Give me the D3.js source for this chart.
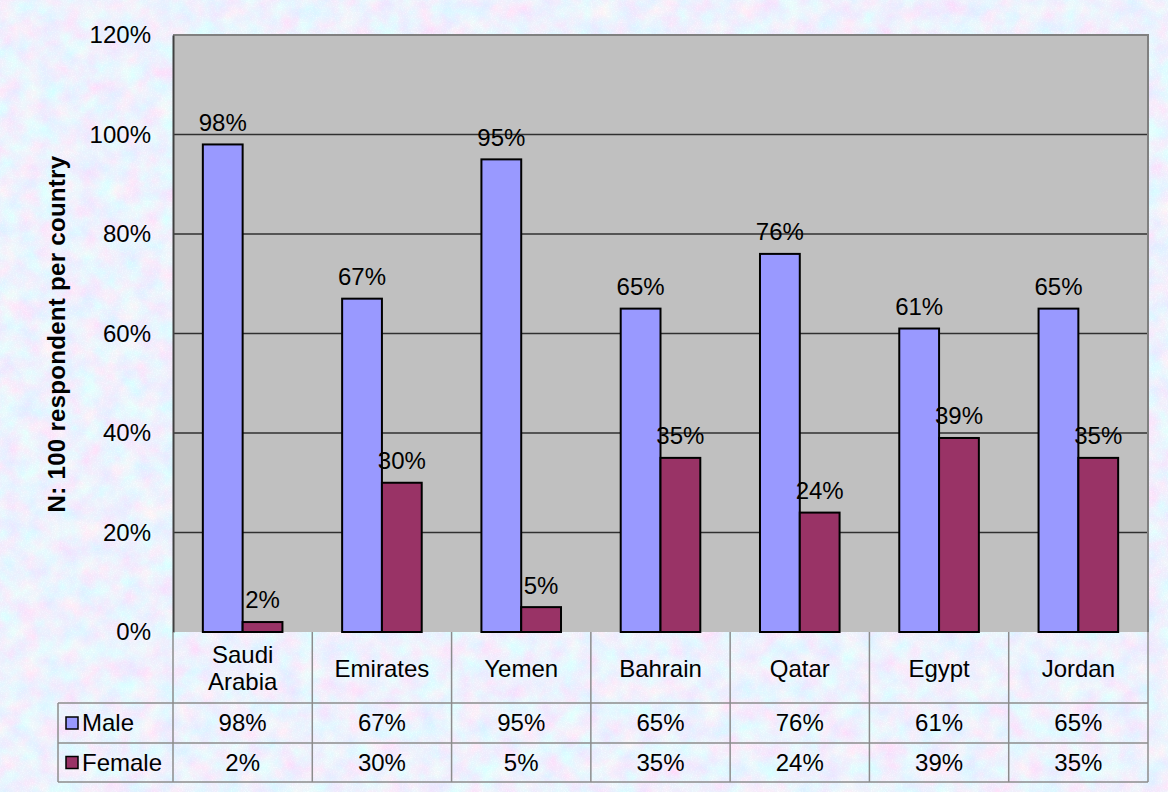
<!DOCTYPE html>
<html><head><meta charset="utf-8">
<script src="https://cdn.jsdelivr.net/npm/d3@7"></script>
<style>html,body{margin:0;padding:0;background:#fff;}svg{display:block;}</style>
</head><body>
<svg id="chart" width="1168" height="792"></svg>
<script>
const categories = [["Saudi","Arabia"],["Emirates"],["Yemen"],["Bahrain"],["Qatar"],["Egypt"],["Jordan"]];
const seriesNames = ["Male","Female"];
const maleValues = [0.98,0.67,0.95,0.65,0.76,0.61,0.65];
const femaleValues = [0.02,0.30,0.05,0.35,0.24,0.39,0.35];
const yTicks = [0,0.2,0.4,0.6,0.8,1.0,1.2];
const colors = {Male:"#9999ff", Female:"#993366"};
const yTitle = "N: 100 respondent per country";

const svg = d3.select("#chart");
const font = "'Liberation Sans', Arial, sans-serif";
const FS = 24;

// textured background
const defs = svg.append("defs");
const f = defs.append("filter").attr("id","tex").attr("x",0).attr("y",0).attr("width",1168).attr("height",792)
  .attr("filterUnits","userSpaceOnUse");
f.append("feTurbulence").attr("type","fractalNoise").attr("baseFrequency","0.05").attr("numOctaves",4).attr("seed",11).attr("result","n1");
f.append("feColorMatrix").attr("in","n1").attr("type","matrix")
  .attr("values","0.40 0 0 0 0.64  -0.2 0.25 0 0 0.85  -0.1 -0.05 0 0 1.05  0 0 0 0 1").attr("result","c1");
f.append("feTurbulence").attr("type","fractalNoise").attr("baseFrequency","0.8").attr("numOctaves",2).attr("seed",3).attr("result","n2");
f.append("feColorMatrix").attr("in","n2").attr("type","matrix")
  .attr("values","0.2 0 0 0 -0.1  0.2 0 0 0 -0.1  0.2 0 0 0 -0.1  0 0 0 0 1").attr("result","c2");
f.append("feComposite").attr("in","c1").attr("in2","c2").attr("operator","arithmetic").attr("k1",0).attr("k2",1).attr("k3",1).attr("k4",0);

svg.append("rect").attr("x",8).attr("y",8).attr("width",1160).attr("height",784).attr("fill","#d4def6");
svg.append("rect").attr("x",8).attr("y",8).attr("width",1160).attr("height",784).attr("filter","url(#tex)");

const L=173, R=1148, T=35, B=632;
const rowCat=703, rowMale=743, rowFem=782, tableL=58;

const x0 = d3.scaleBand().domain(d3.range(categories.length)).range([L,R]).padding(0);
const x1 = d3.scaleBand().domain(seriesNames).range([0,x0.bandwidth()]).paddingInner(0).paddingOuter(0.75);
const y = d3.scaleLinear().domain([0,1.2]).range([B,T]);

// plot area
svg.append("rect").attr("x",L).attr("y",T).attr("width",R-L).attr("height",B-T).attr("fill","#c0c0c0");
// gridlines
svg.append("g").selectAll("line").data(yTicks.filter(t=>t>0 && t<1.2)).join("line")
  .attr("x1",L).attr("x2",R).attr("y1",d=>y(d)).attr("y2",d=>y(d))
  .attr("stroke","#303030").attr("stroke-width",1.5);
// border
svg.append("path").attr("d",`M${L},${T}H${R}V${B}`).attr("fill","none").attr("stroke","#808080").attr("stroke-width",2);

// y axis
const yAxis = d3.axisLeft(y).tickValues(yTicks).tickFormat(d3.format(".0%")).tickSize(0).tickPadding(22);
const ga = svg.append("g").attr("transform",`translate(${L},0)`).call(yAxis);
ga.select(".domain").attr("stroke","#404040").attr("stroke-width",2);
ga.selectAll("text").attr("font-family",font).attr("font-size",FS).attr("fill","#000");

// y title
svg.append("text").attr("transform","translate(57,334) rotate(-90)").attr("text-anchor","middle").attr("dy","0.35em")
  .attr("font-family",font).attr("font-size",24).attr("letter-spacing",0.3).attr("font-weight","bold").attr("fill","#000").text(yTitle);

// bars
const data = categories.map((c,i)=>({i, vals:[{s:"Male",v:maleValues[i]},{s:"Female",v:femaleValues[i]}]}));
const g = svg.append("g").selectAll("g").data(data).join("g").attr("transform",d=>`translate(${x0(d.i)},0)`);
g.selectAll("rect").data(d=>d.vals).join("rect")
  .attr("x",d=>x1(d.s)).attr("width",x1.bandwidth()).attr("y",d=>y(d.v)).attr("height",d=>B-y(d.v))
  .attr("fill",d=>colors[d.s]).attr("stroke","#000").attr("stroke-width",2);
g.selectAll("text").data(d=>d.vals).join("text")
  .attr("x",d=>x1(d.s)+x1.bandwidth()/2).attr("y",d=>y(d.v)-22).attr("dy","0.35em")
  .attr("text-anchor","middle").attr("font-family",font).attr("font-size",FS).attr("fill","#000")
  .text(d=>d3.format(".0%")(d.v));

// data table
const tg = svg.append("g").attr("stroke","#8c8c8c").attr("stroke-width",1.5);
[rowCat,rowMale,rowFem].forEach(yy=>tg.append("line").attr("x1",tableL).attr("x2",R).attr("y1",yy).attr("y2",yy));
tg.append("line").attr("x1",tableL).attr("x2",tableL).attr("y1",rowCat).attr("y2",rowFem);
d3.range(categories.length+1).forEach(i=>{
  const xx = i<categories.length ? x0(i) : R;
  tg.append("line").attr("x1",xx).attr("x2",xx).attr("y1",B).attr("y2",rowFem);
});
// category labels
categories.forEach((c,i)=>{
  const cx = x0(i)+x0.bandwidth()/2;
  const cy = (B+rowCat)/2+1;
  c.forEach((line,j)=>{
    svg.append("text").attr("x",cx).attr("y",cy+(j-(c.length-1)/2)*27).attr("dy","0.35em")
      .attr("text-anchor","middle").attr("font-family",font).attr("font-size",FS).attr("fill","#000").text(line);
  });
});
// series rows
const rows = [{s:"Male",vals:maleValues,cy:(rowCat+rowMale)/2},{s:"Female",vals:femaleValues,cy:(rowMale+rowFem)/2}];
rows.forEach(r=>{
  svg.append("rect").attr("x",66).attr("y",r.cy-6).attr("width",12).attr("height",12)
    .attr("fill",colors[r.s]).attr("stroke","#000").attr("stroke-width",1.5);
  svg.append("text").attr("x",82).attr("y",r.cy).attr("dy","0.35em").attr("font-family",font).attr("font-size",FS).attr("fill","#000").text(r.s);
  r.vals.forEach((v,i)=>{
    svg.append("text").attr("x",x0(i)+x0.bandwidth()/2).attr("y",r.cy).attr("dy","0.35em")
      .attr("text-anchor","middle").attr("font-family",font).attr("font-size",FS).attr("fill","#000").text(d3.format(".0%")(v));
  });
});
</script>
</body></html>
